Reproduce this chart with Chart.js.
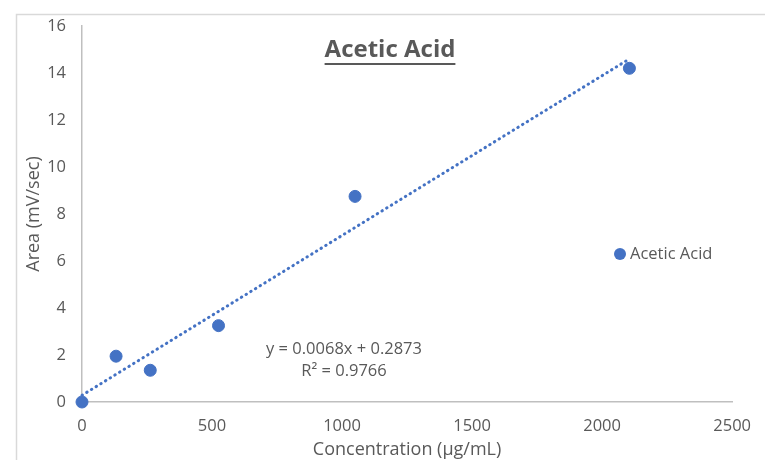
<!DOCTYPE html>
<html>
<head>
<meta charset="utf-8">
<script src="https://cdn.jsdelivr.net/npm/chart.js@4"></script>
<style>
  html, body { margin: 0; padding: 0; background: #ffffff; }
  #wrap { width: 765px; height: 460px; position: relative; }
</style>
</head>
<body>
<div id="wrap"><canvas id="c" width="765" height="460"></canvas></div>
<script>
// ---- Data ----
const chartTitle = "Acetic Acid";
const seriesName = "Acetic Acid";
const concentrations = [0, 131, 262.5, 525, 1050, 2105];
const areas = [0, 1.95, 1.35, 3.25, 8.75, 14.2];
const trendSlope = 0.0068;
const trendIntercept = 0.2873;
const trendRange = [0, 2105];
const equationLines = ["y = 0.0068x + 0.2873", "R\u00b2 = 0.9766"];
const xTitle = "Concentration (\u00b5g/mL)";
const yTitle = "Area (mV/sec)";

const FONT = "'Open Sans', 'Liberation Sans', sans-serif";
const BLUE = "#4472c4";
const GREY_TEXT = "#595959";

const scatterPoints = concentrations.map((x, i) => ({ x: x, y: areas[i] }));
const trendPoints = trendRange.map(x => ({ x: x, y: trendSlope * x + trendIntercept }));

const decorPlugin = {
  id: "decor",
  beforeDraw(chart) {
    const ctx = chart.ctx;
    ctx.save();
    ctx.fillStyle = "#ffffff";
    ctx.fillRect(0, 0, chart.width, chart.height);
    ctx.strokeStyle = "#d9d9d9";
    ctx.lineWidth = 1.5;
    ctx.beginPath();
    ctx.moveTo(16.5, chart.height);
    ctx.lineTo(16.5, 14.5);
    ctx.lineTo(chart.width, 14.5);
    ctx.stroke();
    ctx.restore();
  },
  afterDraw(chart) {
    const ctx = chart.ctx;
    ctx.save();
    // Title (bold, underlined)
    ctx.font = "bold 24px " + FONT;
    ctx.fillStyle = GREY_TEXT;
    ctx.textAlign = "center";
    ctx.textBaseline = "middle";
    const tx = 390, ty = 50;
    ctx.fillText(chartTitle, tx, ty);
    const w = ctx.measureText(chartTitle).width;
    ctx.strokeStyle = GREY_TEXT;
    ctx.lineWidth = 2;
    ctx.beginPath();
    ctx.moveTo(tx - w / 2, ty + 14);
    ctx.lineTo(tx + w / 2, ty + 14);
    ctx.stroke();

    // Trendline equation
    ctx.font = "16.5px " + FONT;
    ctx.fillStyle = GREY_TEXT;
    ctx.fillText(equationLines[0], 344, 349);
    ctx.fillText(equationLines[1], 344, 371);

    // Legend (inside plot, right side)
    const lx = 620, ly = 254;
    ctx.fillStyle = BLUE;
    ctx.beginPath();
    ctx.arc(lx, ly, 6, 0, Math.PI * 2);
    ctx.fill();
    ctx.font = "16.5px " + FONT;
    ctx.fillStyle = GREY_TEXT;
    ctx.textAlign = "left";
    ctx.fillText(seriesName, lx + 10, ly);
    ctx.restore();
  }
};

new Chart(document.getElementById("c"), {
  type: "scatter",
  data: {
    datasets: [
      {
        label: "Linear (" + seriesName + ")",
        type: "line",
        data: trendPoints,
        borderColor: BLUE,
        borderWidth: 3,
        borderDash: [0.5, 5],
        borderCapStyle: "round",
        pointRadius: 0,
        fill: false,
        clip: false,
        order: 2
      },
      {
        label: seriesName,
        data: scatterPoints,
        backgroundColor: BLUE,
        borderColor: BLUE,
        pointRadius: 6,
        pointHoverRadius: 6,
        clip: false,
        order: 1
      }
    ]
  },
  options: {
    responsive: false,
    animation: false,
    devicePixelRatio: 1,
    layout: { padding: { left: 16, top: 26, right: 32, bottom: 0 } },
    plugins: {
      legend: { display: false },
      title: { display: false },
      tooltip: { enabled: false }
    },
    scales: {
      x: {
        type: "linear",
        min: 0, max: 2500,
        afterFit(s) { s.height = 58; },
        grid: { display: false, drawTicks: false },
        border: { display: true, color: "#bfbfbf", width: 1.5 },
        ticks: { stepSize: 500, color: GREY_TEXT, font: { family: FONT, size: 16.5 }, padding: 14, maxRotation: 0,
                 callback: v => String(v) },
        title: { display: true, text: xTitle, color: GREY_TEXT, font: { family: FONT, size: 18 }, padding: { top: 0, bottom: -1 } }
      },
      y: {
        type: "linear",
        min: 0, max: 16,
        afterFit(s) { s.width = 66; },
        grid: { display: false, drawTicks: false },
        border: { display: true, color: "#bfbfbf", width: 1.5 },
        ticks: { stepSize: 2, color: GREY_TEXT, font: { family: FONT, size: 16.5 }, padding: 16,
                 callback: v => String(v) },
        title: { display: true, text: yTitle, color: GREY_TEXT, font: { family: FONT, size: 18 }, padding: { top: 7, bottom: 0 } }
      }
    }
  },
  plugins: [decorPlugin]
});
</script>
</body>
</html>
